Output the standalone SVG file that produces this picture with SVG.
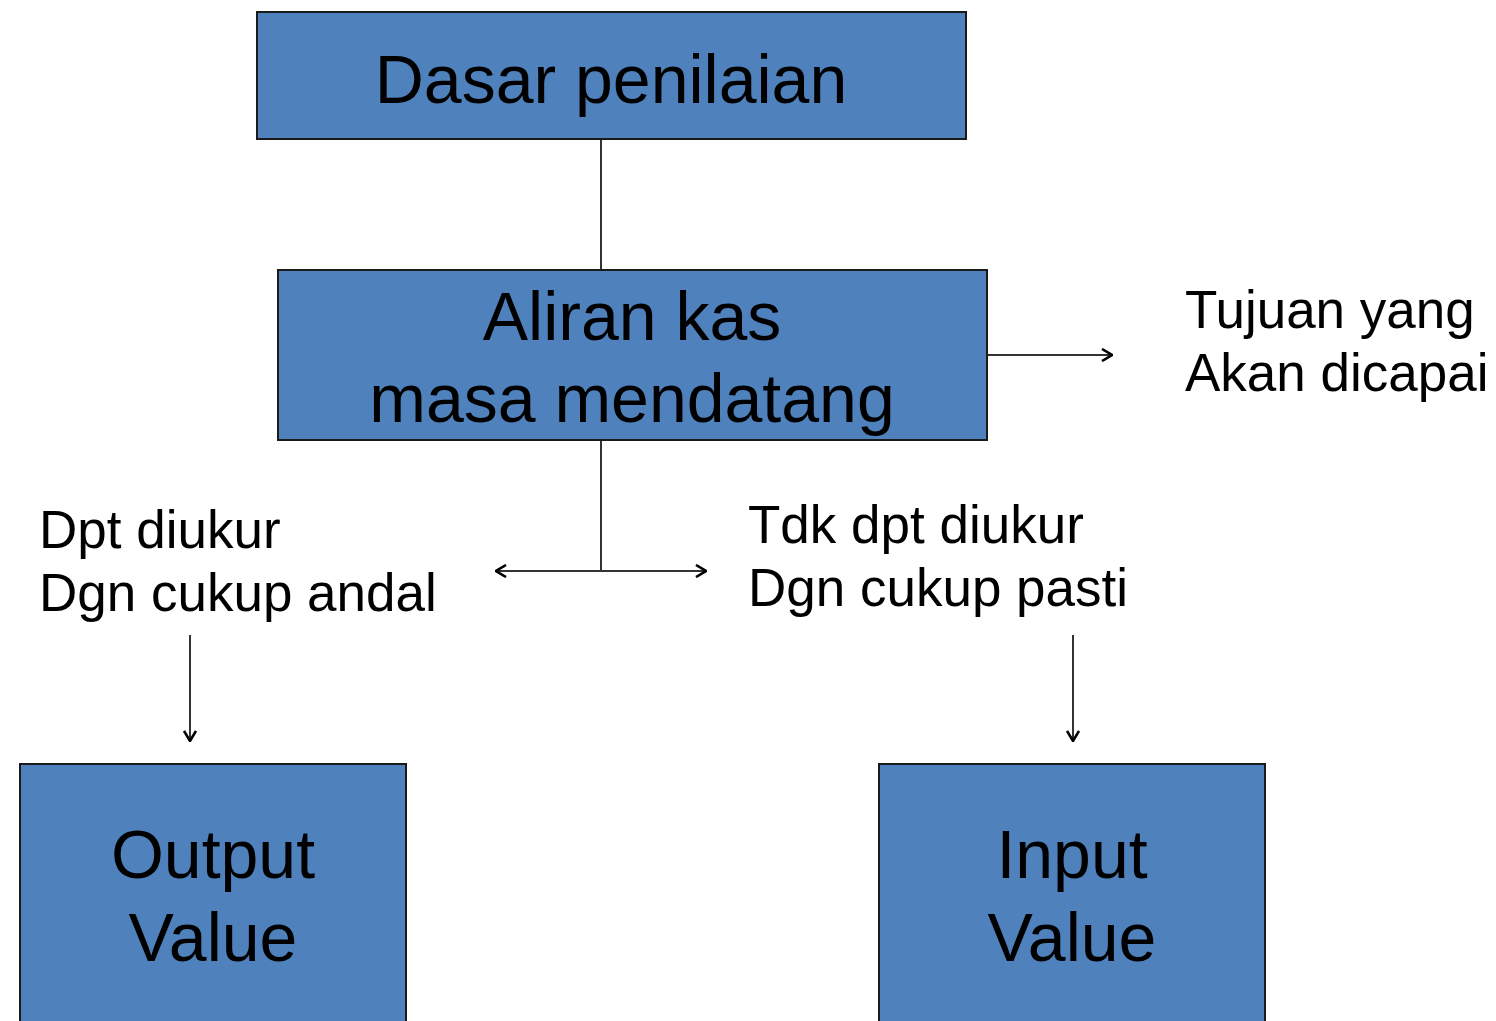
<svg xmlns="http://www.w3.org/2000/svg" width="1496" height="1021" viewBox="0 0 1496 1021">
  <style>
    .box { fill: #4F81BD; stroke: #1a1a1a; stroke-width: 2; }
    .big { font-family: "Liberation Sans", Arial, sans-serif; font-size: 68px; fill: #000; text-anchor: middle; }
    .small { font-family: "Liberation Sans", Arial, sans-serif; font-size: 53px; fill: #000; }
    .wire { stroke: #333; stroke-width: 2; fill: none; }
  </style>
  <defs>
    <marker id="head" viewBox="0 0 12 14" refX="11" refY="7" markerWidth="12" markerHeight="14" markerUnits="userSpaceOnUse" orient="auto-start-reverse">
      <path d="M1,1 L11,7 L1,13" fill="none" stroke="#000" stroke-width="2.6"/>
    </marker>
  </defs>
  <rect width="1496" height="1021" fill="#fff"/>

  <g id="connectors">
    <line class="wire" x1="601" y1="139" x2="601" y2="270"/>
    <line class="wire" x1="601" y1="440" x2="601" y2="571"/>
    <line class="wire" x1="496" y1="571" x2="706" y2="571" marker-start="url(#head)" marker-end="url(#head)"/>
    <line class="wire" x1="987" y1="355" x2="1112" y2="355" marker-end="url(#head)"/>
    <line class="wire" x1="190" y1="635" x2="190" y2="741" marker-end="url(#head)"/>
    <line class="wire" x1="1073" y1="635" x2="1073" y2="741" marker-end="url(#head)"/>
  </g>

  <g id="dasar-penilaian">
    <rect class="box" x="257" y="12" width="709" height="127"/>
    <text class="big" x="611" y="103">Dasar penilaian</text>
  </g>

  <g id="aliran-kas">
    <rect class="box" x="278" y="270" width="709" height="170"/>
    <text class="big" x="632" y="340">Aliran kas</text>
    <text class="big" x="632" y="422">masa mendatang</text>
  </g>

  <g id="tujuan">
    <text class="small" x="1185" y="328">Tujuan yang</text>
    <text class="small" x="1185" y="391">Akan dicapai</text>
  </g>

  <g id="dpt-diukur">
    <text class="small" x="39" y="548">Dpt diukur</text>
    <text class="small" x="39" y="611">Dgn cukup andal</text>
  </g>

  <g id="tdk-dpt-diukur">
    <text class="small" x="748" y="543">Tdk dpt diukur</text>
    <text class="small" x="748" y="606">Dgn cukup pasti</text>
  </g>

  <g id="output-value">
    <rect class="box" x="20" y="764" width="386" height="270"/>
    <text class="big" x="213" y="878">Output</text>
    <text class="big" x="213" y="961">Value</text>
  </g>

  <g id="input-value">
    <rect class="box" x="879" y="764" width="386" height="270"/>
    <text class="big" x="1072" y="878">Input</text>
    <text class="big" x="1072" y="961">Value</text>
  </g>
</svg>
